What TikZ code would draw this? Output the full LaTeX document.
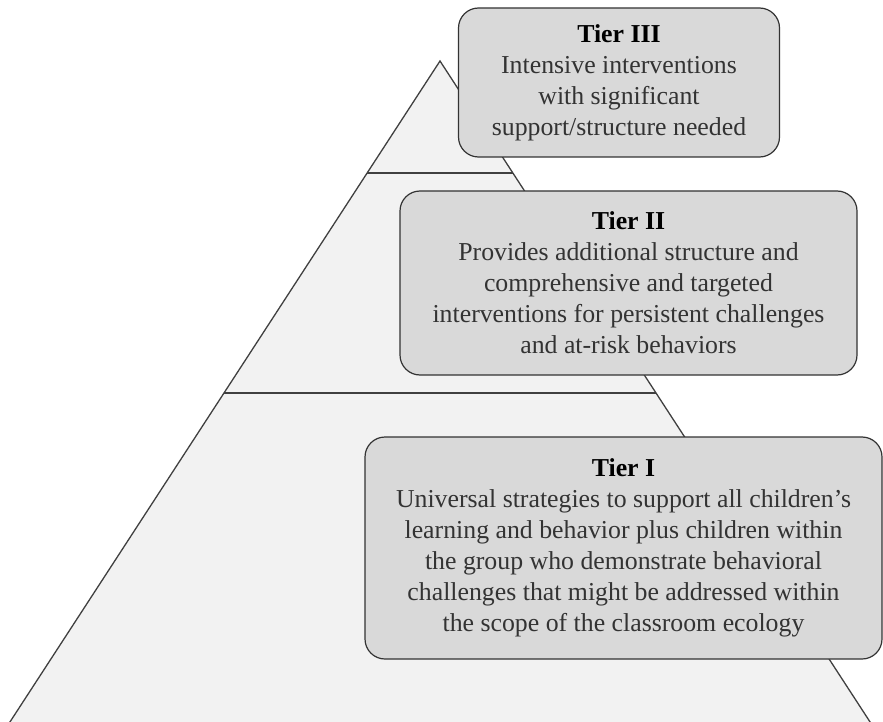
\documentclass[tikz,border=0pt]{standalone}
\usepackage{fontspec}
\setmainfont{Liberation Serif}
\usepackage{xcolor}
\usepackage{tikz}
\usetikzlibrary{calc, positioning}
\definecolor{pyrfill}{RGB}{242, 242, 242}
\definecolor{boxfill}{RGB}{217, 217, 217}
\definecolor{edgegray}{RGB}{64, 64, 64}
\tikzset{
    tiernode/.style = {draw=black!80, fill=boxfill, rectangle, rounded corners=20pt, line width=1.2pt,
      inner sep=0pt, align=center, text=black!80, font=\fontsize{25.8}{31}\selectfont},
    layerline/.style = {draw=edgegray, line width=1.3pt}
}
\newcommand{\tiertitle}[1]{{\bfseries\color{black} #1}}

\begin{document}
\begin{tikzpicture}[x=1pt, y=-1pt]
    \useasboundingbox (0,0) rectangle (883,722);
    \clip (0,0) rectangle (883,722);

    % pyramid, base runs off the bottom
    \coordinate (apex) at (440,61);
    \coordinate (baseL) at (-20,768);
    \coordinate (baseR) at (900,768);
    \fill[pyrfill] (apex) -- (baseL) -- (baseR) -- cycle;
    \draw[layerline] (baseL) -- (apex) -- (baseR);
    \draw[layerline] ($(apex)!0.1584!(baseL)$) -- ($(apex)!0.1584!(baseR)$);
    \draw[layerline] ($(apex)!0.4696!(baseL)$) -- ($(apex)!0.4696!(baseR)$);

    \node [name = T3, tiernode, minimum width=321pt, minimum height=149pt] at (619,82.5)
        {\tiertitle{Tier III}\\ Intensive interventions\\ with significant\\ support/structure needed};
    \node [name = T2, tiernode, minimum width=457pt, minimum height=184pt] at (628.5,283)
        {\tiertitle{Tier II}\\ Provides additional structure and\\ comprehensive and targeted\\
         interventions for persistent challenges\\ and at-risk behaviors};
    \node [name = T1, tiernode, minimum width=517pt, minimum height=222pt] at (623.5,548)
        {\tiertitle{Tier I}\\ Universal strategies to support all children’s\\
         learning and behavior plus children within\\ the group who demonstrate behavioral\\
         challenges that might be addressed within\\ the scope of the classroom ecology};
\end{tikzpicture}
\end{document}
